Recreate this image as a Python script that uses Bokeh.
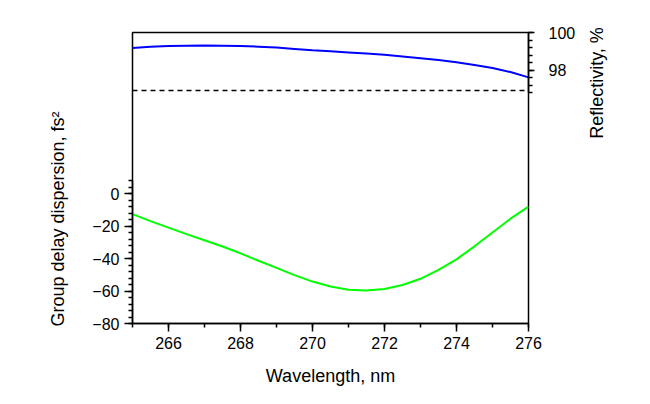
import math
from bokeh.plotting import figure
from bokeh.layouts import row
from bokeh.models import LinearAxis, Range1d, FixedTicker, Title
from bokeh.embed import file_html
from bokeh.resources import INLINE

# ---- data ----
wavelength = [265, 265.5, 266, 266.5, 267, 267.5, 268, 268.5, 269, 269.5, 270,
              270.5, 271, 271.5, 272, 272.5, 273, 273.5, 274, 274.5, 275, 275.5, 276]
reflectivity = [99.18, 99.24, 99.28, 99.30, 99.31, 99.30, 99.28, 99.25, 99.20, 99.13, 99.06,
                99.00, 98.94, 98.88, 98.82, 98.73, 98.64, 98.54, 98.42, 98.28, 98.12, 97.90, 97.62]
gdd = [-12.7, -17.0, -21.0, -25.0, -28.8, -32.6, -36.8, -41.4, -45.8, -50.2, -54.2,
       -57.2, -59.2, -59.7, -58.8, -56.3, -52.5, -47.0, -40.5, -32.5, -24.0, -15.5, -8.0]
refl_threshold = 96.92
threshold_x = [265, 276]

x_ticks = [266, 268, 270, 272, 274, 276]
x_minor = [265, 266, 267, 268, 269, 270, 271, 272, 273, 274, 275, 276]
gdd_ticks = [-80, -60, -40, -20, 0]
gdd_minor = [-80, -76, -72, -68, -64, -60, -56, -52, -48, -44, -40, -36, -32, -28,
             -24, -20, -16, -12, -8, -4, 0, 4, 8]
refl_ticks = [98, 100]
refl_minor = [96.8, 97.2, 97.6, 98.0, 98.4, 98.8, 99.2, 99.6, 100.0]

x_title = "Wavelength, nm"
gdd_title = "Group delay dispersion, fs\u00b2"
refl_title = "Reflectivity, %"

FONT = "Liberation Sans"
H = 396


def title_holder(width, border_left, border_top, border_bottom, text):
    f = figure(width=width, height=H, output_backend="svg", toolbar_location=None,
               x_axis_location=None, y_axis_location=None,
               min_border_left=border_left, min_border_right=0,
               min_border_top=border_top, min_border_bottom=border_bottom)
    f.frame_align = False
    f.outline_line_color = None
    f.xgrid.visible = False
    f.ygrid.visible = False
    f.background_fill_color = "white"
    f.border_fill_color = "white"
    t = Title(text=text, align="center", standoff=0, text_font=FONT,
              text_font_size="18px", text_font_style="normal", text_color="black")
    f.add_layout(t, "left")
    return f


# left holder for the GDD axis title: x 0..80
p0 = title_holder(80, 67, 111, H - 326, gdd_title)

# main chart: x 80..584, frame 132..528
p = figure(width=504, height=H, x_range=Range1d(265, 276), y_range=Range1d(-80, 99.1),
           output_backend="svg", toolbar_location=None,
           min_border_left=52, min_border_right=56, min_border_top=32, min_border_bottom=73)
p.frame_align = False
p.extra_y_ranges = {"refl": Range1d(84.56, 100)}
p.xgrid.visible = False
p.ygrid.visible = False
p.outline_line_color = "black"
p.outline_line_width = 1.5
p.outline_line_alpha = 1.0
p.background_fill_color = "white"
p.border_fill_color = "white"


def style(ax, major_out, minor_out, standoff):
    ax.axis_line_color = "black"
    ax.axis_line_width = 1.5
    ax.major_tick_line_color = "black"
    ax.minor_tick_line_color = "black"
    ax.major_tick_line_width = 1.5
    ax.minor_tick_line_width = 1.5
    ax.major_tick_in = 0
    ax.minor_tick_in = 0
    ax.major_tick_out = major_out
    ax.minor_tick_out = minor_out
    ax.major_label_text_font = FONT
    ax.major_label_text_font_size = "16px"
    ax.major_label_text_color = "black"
    ax.major_label_standoff = standoff
    ax.axis_label_text_font = FONT
    ax.axis_label_text_font_size = "18px"
    ax.axis_label_text_font_style = "normal"
    ax.axis_label_text_color = "black"


xa = p.xaxis[0]
xa.ticker = FixedTicker(ticks=x_ticks, minor_ticks=x_minor)
style(xa, 8, 4, 5)
xa.axis_label = x_title
xa.axis_label_standoff = 14

ya = p.yaxis[0]
ya.ticker = FixedTicker(ticks=gdd_ticks, minor_ticks=gdd_minor)
ya.bounds = (-80, 8)
style(ya, 8, 4, 5)

ra = LinearAxis(y_range_name="refl", ticker=FixedTicker(ticks=refl_ticks, minor_ticks=refl_minor),
                bounds=(96.8, 100))
style(ra, 6, 4, 14)
p.add_layout(ra, "right")

p.line(wavelength, reflectivity, y_range_name="refl", line_color="#0000ff", line_width=2)
p.line(threshold_x, [refl_threshold, refl_threshold], y_range_name="refl",
       line_color="black", line_width=1.5, line_dash="5 4")
p.line(wavelength, gdd, line_color="#00ff00", line_width=2)

# right holder for the reflectivity title: x 584..634
p2 = title_holder(50, 17, 20, H - 145, refl_title)

layout = row(p0, p, p2, spacing=0)
open("out.html", "w").write(file_html(layout, INLINE))
